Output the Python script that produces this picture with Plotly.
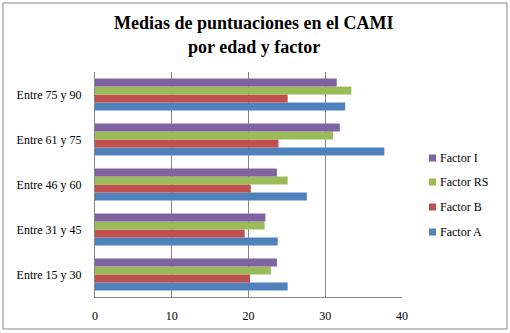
import plotly.graph_objects as go

categories = ["Entre 15 y 30", "Entre 31 y 45", "Entre 46 y 60", "Entre 61 y 75", "Entre 75 y 90"]
factor_a = [25.1, 23.8, 27.6, 37.7, 32.6]
factor_b = [20.2, 19.5, 20.3, 23.9, 25.1]
factor_rs = [22.9, 22.1, 25.1, 31.0, 33.4]
factor_i = [23.7, 22.2, 23.7, 31.9, 31.5]
series_names = ["Factor A", "Factor B", "Factor RS", "Factor I"]
series_colors = ["#4F81BD", "#C0504D", "#9BBB59", "#8064A2"]
x_ticks = [0, 10, 20, 30, 40]

W, H = 510, 333
L, R, T, B = 95, 108, 72, 36
pw, ph = W - L - R, H - T - B

def px_x(p):
    return (p - L) / pw

def px_y(p):
    return (H - B - p) / ph

font = "Times New Roman, Liberation Serif, DejaVu Serif, serif"

fig = go.Figure()
for name, vals, col in zip(series_names, [factor_a, factor_b, factor_rs, factor_i], series_colors):
    fig.add_trace(go.Bar(y=categories, x=vals, name=name, orientation="h",
                         marker=dict(color=col, line=dict(width=0)), showlegend=False))

shapes = [dict(type="rect", xref="paper", yref="paper",
               x0=px_x(3), x1=px_x(507), y0=px_y(329), y1=px_y(3),
               line=dict(color="#868686", width=1), fillcolor="rgba(0,0,0,0)", layer="below")]
annotations = [
    dict(text="<b>Medias de puntuaciones en el CAMI</b>", xref="paper", yref="paper",
         x=px_x(254), y=px_y(23), xanchor="center", yanchor="middle", showarrow=False,
         font=dict(family=font, size=18, color="black")),
    dict(text="<b>por edad y factor</b>", xref="paper", yref="paper",
         x=px_x(254), y=px_y(47), xanchor="center", yanchor="middle", showarrow=False,
         font=dict(family=font, size=18, color="black")),
]
leg_y = [232, 207, 182, 158]
for name, col, yy in zip(series_names, series_colors, leg_y):
    shapes.append(dict(type="rect", xref="paper", yref="paper",
                       x0=px_x(429), x1=px_x(436), y0=px_y(yy + 3.5), y1=px_y(yy - 3.5),
                       line=dict(width=0), fillcolor=col))
    annotations.append(dict(text=name, xref="paper", yref="paper", x=px_x(438), y=px_y(yy),
                            xanchor="left", yanchor="middle", showarrow=False,
                            font=dict(family=font, size=12, color="black")))

fig.update_layout(
    width=W, height=H,
    margin=dict(l=L, r=R, t=T, b=B, autoexpand=False),
    paper_bgcolor="white", plot_bgcolor="white",
    barmode="group", bargap=0.29, bargroupgap=0,
    font=dict(family=font, size=12, color="black"),
    showlegend=False,
    xaxis=dict(range=[0, 40], tickvals=x_ticks, showgrid=True, gridcolor="#868686", gridwidth=1,
               showline=True, linecolor="#868686", linewidth=1, zeroline=False,
               ticks="", ticklabelstandoff=8, fixedrange=True, automargin=False,
               tickfont=dict(family=font, size=12, color="black")),
    yaxis=dict(showline=True, linecolor="#868686", linewidth=1, showgrid=False, zeroline=False,
               ticks="", ticklabelstandoff=10, automargin=False,
               tickfont=dict(family=font, size=12, color="black")),
    shapes=shapes,
    annotations=annotations,
)

fig.write_html("out.html")
